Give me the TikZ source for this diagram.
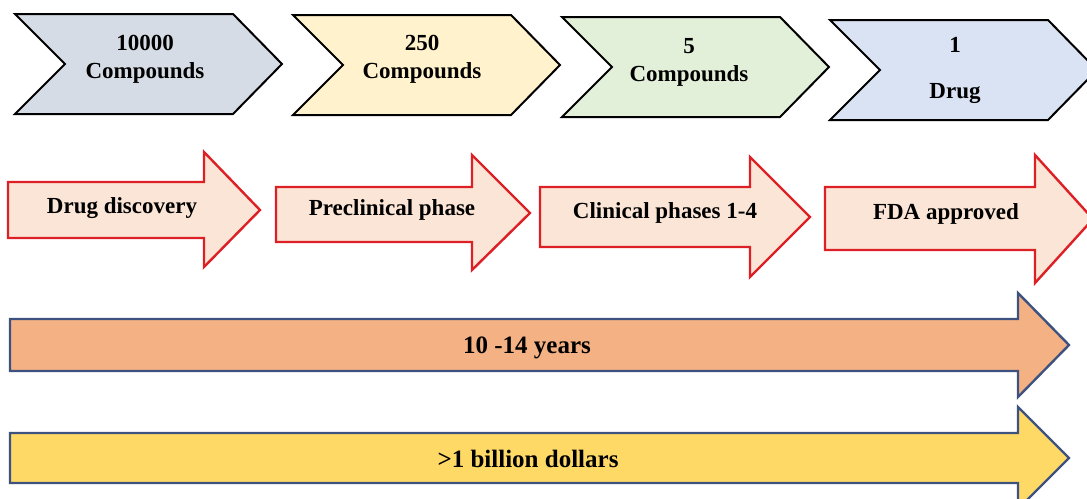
\documentclass[tikz,border=0pt]{standalone}
\usepackage{fontspec}
\setmainfont{Liberation Serif}
\definecolor{chevGrey}{HTML}{D6DCE5}
\definecolor{chevYellow}{HTML}{FFF2CC}
\definecolor{chevGreen}{HTML}{E2F0D9}
\definecolor{chevBlue}{HTML}{DAE3F3}
\definecolor{phaseRed}{HTML}{DD1F26}
\definecolor{phaseFill}{HTML}{FBE5D6}
\definecolor{barBlue}{HTML}{3E527F}
\definecolor{barOrange}{HTML}{F4B183}
\definecolor{barYellow}{HTML}{FFD966}
\begin{document}
\begin{tikzpicture}[
x=1pt, y=-1pt,
chevron/.style={draw=black, line width=2pt},
phase/.style={draw=phaseRed, fill=phaseFill, line width=2.4pt},
bar/.style={draw=barBlue, line width=2.4pt},
every node/.style={font=\bfseries\fontsize{23}{28}\selectfont, align=center, inner sep=0pt},
big/.style={font=\bfseries\fontsize{25}{30}\selectfont}
]
\useasboundingbox (0,0) rectangle (1087,498);
\clip (0,0) rectangle (1087,498);

% compound chevrons
\foreach \sx/\sy/\col in {15/14/chevGrey, 293/15/chevYellow, 562/17/chevGreen, 830/20/chevBlue}
  \draw[chevron, fill=\col] (\sx,\sy) -- ++(218,0) -- ++(49,50) -- ++(-49,50) -- ++(-218,0) -- ++(50,-50) -- cycle;

\node (compounds10000) at (145,59) {10000\\Compounds};
\node (compounds250) at (422,59) {250\\Compounds};
\node (compounds5) at (689,62) {5\\Compounds};
\node (drug1) at (955,70) {1\\[18pt]Drug};

% phase arrows
\foreach \sx/\bodyt/\bodyb/\headx/\headt/\headb/\tipx/\tipy in {8/182/238/204/152/267/260/210, 276/187/242/472/155/270/530/213, 540/187/247/750/157/277/810/217, 825/187/250/1035/155/283/1093/219}
  \draw[phase] (\sx,\bodyt) -- (\headx,\bodyt) -- (\headx,\headt) -- (\tipx,\tipy) -- (\headx,\headb) -- (\headx,\bodyb) -- (\sx,\bodyb) -- cycle;

\node[anchor=base] (discovery) at (122,213) {Drug discovery};
\node[anchor=base] (preclinical) at (392,215) {Preclinical phase};
\node[anchor=base] (clinical) at (665,218) {Clinical phases 1-4};
\node[anchor=base] (approved) at (946,219) {FDA approved};

% time and cost bars
\draw[bar, fill=barOrange] (10,319) -- (1018,319) -- (1018,293) -- (1069,345) -- (1018,397) -- (1018,371) -- (10,371) -- cycle;
\draw[bar, fill=barYellow] (10,433) -- (1018,433) -- (1018,407) -- (1069,458) -- (1018,509) -- (1018,483) -- (10,483) -- cycle;

\node[big, anchor=base] (years) at (527,353) {10 -14 years};
\node[big, anchor=base] (dollars) at (528,467) {>1 billion dollars};
\end{tikzpicture}
\end{document}
